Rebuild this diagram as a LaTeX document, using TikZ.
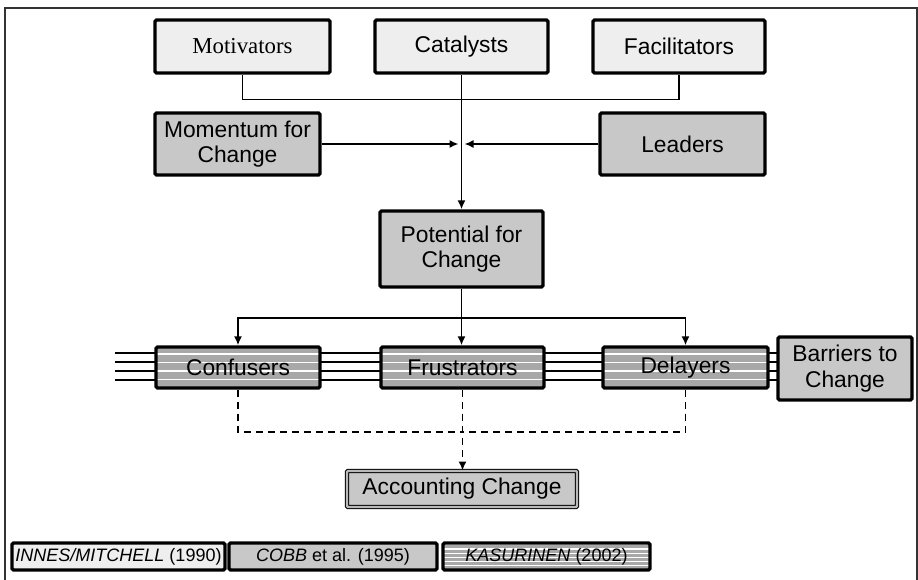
\documentclass[tikz,border=0pt]{standalone}
\usepackage{fontspec}
\setmainfont{Liberation Sans}
\newfontfamily\timesfont{Liberation Serif}
\usetikzlibrary{arrows.meta}
\definecolor{lightbox}{HTML}{EEEEEE}
\definecolor{midbox}{HTML}{C8C8C8}
\definecolor{stripegray}{HTML}{A8A8A8}
\begin{document}
\begin{tikzpicture}[x=1pt,y=-1pt,
  box/.style={draw=black, line width=3.4pt, rounded corners=1.5pt, align=center, inner sep=0pt,
    font=\fontsize{22.8}{25.5}\selectfont},
  lightb/.style={box, fill=lightbox},
  midb/.style={box, fill=midbox},
  stripeb/.style={box, path picture={
      \fill[stripegray] (path picture bounding box.south west) rectangle (path picture bounding box.north east);
      \foreach \k in {1,...,14}
        \draw[white, line width=1.1pt]
          ([yshift=\k*#1]path picture bounding box.south west) --
          ([yshift=\k*#1]path picture bounding box.south east);}},
  legendf/.style={font=\fontsize{18}{20}\selectfont},
  conn/.style={line width=1.6pt},
  tip/.style={-{Latex[length=9pt,width=8pt]}},
  arr/.style={conn, tip},
  dashconn/.style={conn, dash pattern=on 7pt off 5pt}
]
\useasboundingbox (0,0) rectangle (918,580);
\draw[line width=1.8pt, black!80] (5,580) -- (5,8) -- (917,8) -- (917,580);

% background bars
\foreach \yy in {353,362,371,380}
  \draw[line width=1.4pt] (115,\yy) -- (778,\yy);

% top row
\node[lightb, minimum width=175pt, minimum height=53pt, font=\fontsize{22.8}{25.5}\timesfont] (mot) at (242.5,46.5) {Motivators};
\node[lightb, minimum width=173pt, minimum height=53pt] (cat) at (461.5,46.5) {Catalysts};
\node[lightb, minimum width=172pt, minimum height=53pt] (fac) at (679,46.5) {Facilitators};

\node[midb, minimum width=165pt, minimum height=62pt] (mom) at (237.5,144) {Momentum for\\Change};
\node[midb, minimum width=165pt, minimum height=62pt] (lead) at (682.5,144) {Leaders};

\node[midb, minimum width=163pt, minimum height=76pt] (pot) at (461.5,249) {Potential for\\Change};

\node[stripeb=8.5pt, minimum width=164pt, minimum height=41pt] (conf) at (238,367.5) {Confusers};
\node[stripeb=8.5pt, minimum width=163pt, minimum height=41pt] (fru) at (462.5,367.5) {Frustrators};
\node[stripeb=8.5pt, minimum width=165pt, minimum height=41pt] (del) at (685.5,367.5) {Delayers};
\node[midb, minimum width=134pt, minimum height=63pt] (bar) at (845,368.5) {Barriers to\\Change};

\node[draw=black, line width=1pt, double=gray!55, double distance=2.4pt, rounded corners=1pt,
  fill=midbox, minimum width=230pt, minimum height=36pt, inner sep=0pt,
  font=\fontsize{22.8}{25.5}\selectfont] (acc) at (462,489) {Accounting Change};

% legend
\node[lightb, legendf, minimum width=213pt, minimum height=27pt] (l1) at (118.5,556.5) {\textit{INNES/MITCHELL} (1990)};
\node[midb, legendf, minimum width=208pt, minimum height=27pt] (l2) at (333,556.5) {\textit{COBB} et al. (1995)};
\node[stripeb=4.2pt, legendf, minimum width=207pt, minimum height=27pt] (l3) at (546.5,556.5) {\textit{KASURINEN} (2002)};

% connectors
\draw[conn] (mot.south) -- ++(0,25) -| (fac.south);
\draw[arr] (cat.south) -- (pot.north);
\draw[arr] (mom.east) -- ([xshift=-3pt]cat.south |- mom.east);
\draw[arr] (lead.west) -- ([xshift=3pt]cat.south |- lead.west);

\draw[conn] (pot.south) -- ++(0,29) coordinate (pj);
\draw[arr] (pj) -- (fru.north -| pj);
\draw[arr] (pj) -| (conf.north);
\draw[arr] (pj) -| (del.north);

\coordinate (dj) at ([yshift=-42pt]fru.south);
\draw[dashconn] (conf.south) |- (dj);
\draw[dashconn] (del.south) |- (dj);
\draw[dashconn, tip] (fru.south) -- (acc.north -| fru.south);
\end{tikzpicture}
\end{document}
